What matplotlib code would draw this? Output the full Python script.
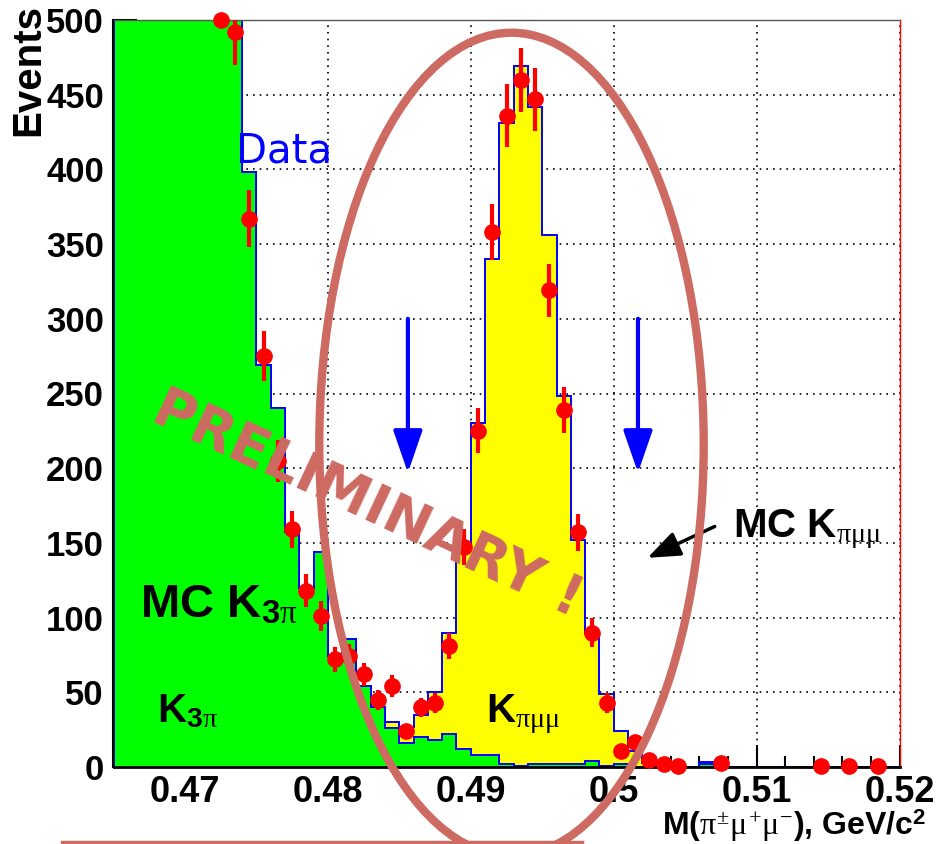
import numpy as np
import matplotlib
matplotlib.use('Agg')
import matplotlib.pyplot as plt
from matplotlib.patches import Ellipse
from matplotlib.lines import Line2D

# K -> pi mu mu invariant mass, data vs MC (K3pi + Kpimumu).

BIN_LO = 0.465
BIN_HI = 0.520
N_BINS = 55

# MC K3pi per 0.001 bin, starting at 0.465 (first bins run off scale)
mc_k3pi = [900, 860, 820, 780, 740, 700, 650, 600, 540, 398,
           269, 240, 157, 120, 144, 74, 86, 54, 40, 26,
           16, 20, 18, 22, 12, 8, 8, 2, 1, 2,
           2, 2, 2, 4, 1, 2, 0, 0, 0, 0,
           0, 2, 0, 0, 0, 0, 0, 0, 0, 0,
           0, 0, 0, 0, 0]

# MC Kpimumu, stacked on top of K3pi
mc_kpimumu = [0, 0, 0, 0, 0, 0, 0, 0, 0, 0,
              0, 0, 0, 0, 0, 0, 0, 0, 0, 4,
              11, 15, 32, 68, 138, 222, 332, 429, 468, 440,
              354, 246, 150, 86, 48, 22, 11, 3, 1, 0,
              0, 1.5, 0, 0, 0, 0, 0, 0, 0, 0,
              0, 0, 0, 0, 0]

# data points (bin centres), counts and errors
data_x = [0.4725, 0.4735, 0.4745, 0.4755, 0.4765, 0.4775, 0.4785, 0.4795,
          0.4805, 0.4815, 0.4825, 0.4835, 0.4845, 0.4855, 0.4865, 0.4875,
          0.4885, 0.4895, 0.4905, 0.4915, 0.4925, 0.4935, 0.4945, 0.4955,
          0.4965, 0.4975, 0.4985, 0.4995, 0.5005, 0.5015, 0.5025, 0.5035,
          0.5045, 0.5075, 0.5145, 0.5165, 0.5185]
data_y = [500, 492, 367, 275, 205, 159, 118, 101,
          72, 74, 62, 45, 54, 24, 40, 43,
          81, 147, 225, 358, 436, 460, 447, 319,
          239, 157, 90, 43, 11, 17, 5, 2,
          1, 3, 1, 1, 1]
data_err = [0, 22, 19, 16.5, 14, 12.6, 10.9, 10,
            8.5, 8.6, 7.9, 6.7, 7.3, 4.9, 6.3, 6.6,
            9, 12.1, 15, 18.9, 20.9, 21.4, 21.1, 17.9,
            15.5, 12.5, 9.5, 6.6, 3.3, 4.1, 2.2, 1.4,
            1, 1.7, 1, 1, 1]

y_ticks = [0, 50, 100, 150, 200, 250, 300, 350, 400, 450, 500]
x_ticks = [0.47, 0.48, 0.49, 0.50, 0.51, 0.52]
x_ticklabels = ['0.47', '0.48', '0.49', '0.5', '0.51', '0.52']

cut_lo = 0.4856
cut_hi = 0.5017

plt.rcParams['font.family'] = ['Liberation Sans', 'DejaVu Sans']
plt.rcParams['mathtext.fontset'] = 'custom'
plt.rcParams['mathtext.rm'] = 'Liberation Serif'
plt.rcParams['mathtext.it'] = 'Liberation Serif'
plt.rcParams['mathtext.bf'] = 'Liberation Sans:bold'

MARK = '#cd6a62'

fig = plt.figure(figsize=(9.37, 8.44), dpi=100)
ax = fig.add_axes([113.5/937, 77/844, 786/937, 747/844])

edges = np.linspace(BIN_LO, BIN_HI, N_BINS + 1)
k3pi = np.array(mc_k3pi, dtype=float)
total = k3pi + np.array(mc_kpimumu, dtype=float)

ax.stairs(total, edges, fill=True, facecolor=(1, 1, 0), edgecolor='none', zorder=1)
ax.stairs(total, edges, color=(0, 0, 1), lw=1.4, zorder=1.1)
ax.stairs(k3pi, edges, fill=True, facecolor=(0, 1, 0), edgecolor='none', zorder=1.2)
ax.stairs(k3pi, edges, color=(0, 0, 1), lw=1.4, zorder=1.3)

eb = ax.errorbar(data_x, data_y, yerr=data_err, fmt='o', color='red', ms=11,
                 elinewidth=3, capsize=0, zorder=3)
# markers may poke over the frame, error bars stay inside
eb[0].set_clip_on(False)
for bars in eb[2]:
    bars.set_clip_on(True)

ax.set_xlim(BIN_LO, BIN_HI)
ax.set_ylim(0, 500)
ax.set_xticks(x_ticks)
ax.set_xticklabels(x_ticklabels)
ax.set_xticks(np.arange(0.466, 0.5201, 0.002), minor=True)
ax.set_yticks(y_ticks)
ax.set_yticks(np.arange(0, 501, 10), minor=True)
ax.tick_params(axis='both', which='both', direction='in', top=False, right=False)
ax.tick_params(axis='y', which='major', length=17, width=1.5, pad=7, labelsize=25)
ax.tick_params(axis='y', which='minor', length=9, width=1.5)
ax.tick_params(axis='x', which='major', length=16, width=1.5, pad=6, labelsize=26)
ax.tick_params(axis='x', which='minor', length=8, width=1.5)
for lab in ax.get_xticklabels() + ax.get_yticklabels():
    lab.set_fontweight('bold')

ax.set_axisbelow(True)
ax.grid(True, which='major', color='black', linestyle=(0, (1, 3)), lw=1.2)

ax.spines['left'].set_linewidth(1.5)
ax.spines['bottom'].set_linewidth(2)
ax.spines['top'].set_linewidth(1)
ax.spines['top'].set_color('#555555')
ax.spines['right'].set_linewidth(1)
ax.spines['right'].set_color('red')

fig.text(28/937, 1 - 4/844, 'Events', rotation=90, ha='center', va='top',
         fontsize=29, fontweight='bold')
fig.text(926/937, 1 - 835/844, r'M($\pi^{\pm}\mu^{+}\mu^{-}$), GeV/c$^{\mathbf{2}}$',
         ha='right', va='baseline', fontsize=23, fontweight='bold')

# labels
ax.text(0.4736, 412, 'Data', color=(0, 0, 1), fontsize=29,
        family='DejaVu Sans', va='center', ha='left', zorder=4)
ax.text(0.46685, 100, r'MC K$_{\mathbf{3}\pi}$', fontsize=34, fontweight='bold',
        va='baseline', ha='left', zorder=4)
ax.text(0.46804, 30, r'K$_{\mathbf{3}\pi}$', fontsize=29, fontweight='bold',
        va='baseline', ha='left', zorder=4)
ax.text(0.49105, 30, r'K$_{\pi\mu\mu}$', fontsize=29, fontweight='bold',
        va='baseline', ha='left', zorder=4)
ax.text(0.50835, 154, r'MC K$_{\pi\mu\mu}$', fontsize=29, fontweight='bold',
        va='baseline', ha='left', zorder=4)

ax.annotate('', xy=(0.50237, 140), xytext=(0.50707, 161),
            arrowprops=dict(arrowstyle='-|>,head_length=0.9,head_width=0.35',
                            lw=2.5, color='black', mutation_scale=22,
                            shrinkA=0, shrinkB=0), zorder=4)

for xc in (cut_lo, cut_hi):
    ax.annotate('', xy=(xc, 197), xytext=(xc, 300),
                arrowprops=dict(arrowstyle='-|>,head_length=1.3,head_width=0.45',
                                lw=3, color=(0, 0, 1), mutation_scale=20,
                                shrinkA=0, shrinkB=0), zorder=4)

# preliminary stamp
ax.text(0.48275, 176, 'PRELIMINARY !', rotation=-25, color=MARK,
        fontsize=40, fontweight='bold', family='DejaVu Sans',
        ha='center', va='center', zorder=5, rotation_mode='anchor')
ax.add_patch(Ellipse((0.49285, 216), 0.0269, 551, fill=False, edgecolor=MARK,
                     lw=6, zorder=6, clip_on=False))
fig.add_artist(Line2D([62/937, 582/937], [2/844, 2/844], color=MARK, lw=2.5))

plt.savefig('out.png', dpi=100)
